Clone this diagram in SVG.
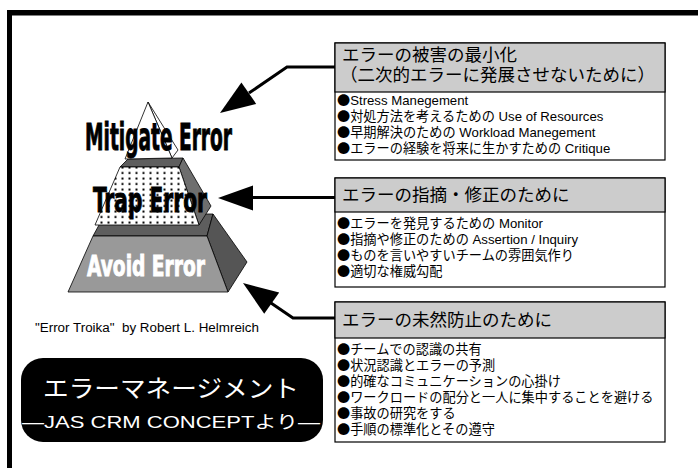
<svg xmlns="http://www.w3.org/2000/svg" width="698" height="468" viewBox="0 0 698 468">
<defs>
<pattern id="dots" width="7" height="5.5" patternUnits="userSpaceOnUse">
<rect width="7" height="5.5" fill="#fff"/>
<rect x="2.5" y="1.5" width="2" height="2" fill="#000"/>
</pattern>
<style>
.box{fill:#fff;stroke:#000;stroke-width:1.2}
.hdr{fill:#cccccc;stroke:#000;stroke-width:1.2}
.ht{font-family:"Noto Sans CJK JP","Liberation Sans",sans-serif;font-size:17.5px;fill:#000}
.bt{font-family:"Liberation Sans","Noto Sans CJK JP",sans-serif;font-size:13.2px;fill:#000}
.bl{font-family:"Noto Sans CJK JP",sans-serif}
.pt{font-family:"DejaVu Sans Condensed","DejaVu Sans",sans-serif;font-weight:bold;stroke-width:0.9}
.ln{fill:none;stroke:#000;stroke-width:3}
.ah{fill:#000}
.edge{stroke:#000;stroke-width:0.8}
</style>
</defs>
<rect width="698" height="468" fill="#fff"/>
<g id="frame">
<rect x="7" y="10" width="691" height="5.5" fill="#000"/>
<rect x="7" y="10" width="5" height="458" fill="#000"/>
</g>
<g id="pyramid">
<polygon points="93,236 105,214 213,214 207,236" fill="#5e5e5e" class="edge"/>
<polygon points="207,236 213,214 247,262 228,292" fill="#555" class="edge"/>
<polygon points="93,236 207,236 228,292 68,292" fill="#999" class="edge"/>
<polygon points="120,167 128,159 183,158 179,167" fill="#5e5e5e" class="edge"/>
<polygon points="179,167 183,158 211,206 199,225" fill="#6e6e6e" class="edge"/>
<polygon points="120,167 179,167 199,225 95,225" fill="url(#dots)" class="edge"/>
<polygon points="148,102 178,150 172,158" fill="#fff" class="edge"/>
<polygon points="148,102 172,158 125,159" fill="#fff" class="edge"/>
<text class="pt" x="85" y="150" font-size="37" textLength="147" lengthAdjust="spacingAndGlyphs" fill="#000" stroke="#000">Mitigate Error</text>
<text class="pt" x="93" y="212" font-size="34" textLength="114" lengthAdjust="spacingAndGlyphs" fill="#000" stroke="#000">Trap Error</text>
<text class="pt" x="87" y="276" font-size="29" textLength="118" lengthAdjust="spacingAndGlyphs" fill="#fff" stroke="#fff">Avoid Error</text>
</g>
<g id="connectors">
<polyline class="ln" points="335,67 287,67 249,93"/>
<polygon class="ah" points="220,113 256.2,103.9 241.4,82.5"/>
<line class="ln" x1="335" y1="197.5" x2="250" y2="197.5"/>
<polygon class="ah" points="218,198 253,185.5 253,210.5"/>
<polyline class="ln" points="335,318 293,318 271,303"/>
<polygon class="ah" points="243,283 279.2,292.5 264.2,313.7"/>
</g>
<g id="box1">
<rect class="box" x="335" y="43" width="330" height="117"/>
<rect class="hdr" x="335" y="43" width="330" height="49"/>
<text class="ht" x="342" y="61">エラーの被害の最小化</text>
<text class="ht" x="340" y="81">（二次的エラーに発展させないために）</text>
<text class="bt" x="337" y="105"><tspan class="bl">●</tspan>Stress Manegement</text>
<text class="bt" x="337" y="121"><tspan class="bl">●</tspan>対処方法を考えるための Use of Resources</text>
<text class="bt" x="337" y="137"><tspan class="bl">●</tspan>早期解決のための Workload Manegement</text>
<text class="bt" x="337" y="153"><tspan class="bl">●</tspan>エラーの経験を将来に生かすための Critique</text>
</g>
<g id="box2">
<rect class="box" x="335" y="178" width="330" height="109"/>
<rect class="hdr" x="335" y="178" width="330" height="34"/>
<text class="ht" x="342" y="201">エラーの指摘・修正のために</text>
<text class="bt" x="337" y="228"><tspan class="bl">●</tspan>エラーを発見するための Monitor</text>
<text class="bt" x="337" y="244"><tspan class="bl">●</tspan>指摘や修正のための Assertion / Inquiry</text>
<text class="bt" x="337" y="260"><tspan class="bl">●</tspan>ものを言いやすいチームの雰囲気作り</text>
<text class="bt" x="337" y="276"><tspan class="bl">●</tspan>適切な権威勾配</text>
</g>
<g id="box3">
<rect class="box" x="335" y="302" width="330" height="140"/>
<rect class="hdr" x="335" y="302" width="330" height="36"/>
<text class="ht" x="342" y="326">エラーの未然防止のために</text>
<text class="bt" x="337" y="354"><tspan class="bl">●</tspan>チームでの認識の共有</text>
<text class="bt" x="337" y="370"><tspan class="bl">●</tspan>状況認識とエラーの予測</text>
<text class="bt" x="337" y="386"><tspan class="bl">●</tspan>的確なコミュニケーションの心掛け</text>
<text class="bt" x="337" y="402"><tspan class="bl">●</tspan>ワークロードの配分と一人に集中することを避ける</text>
<text class="bt" x="337" y="418"><tspan class="bl">●</tspan>事故の研究をする</text>
<text class="bt" x="337" y="434"><tspan class="bl">●</tspan>手順の標準化とその遵守</text>
</g>
<g id="citation">
<text x="35" y="332" font-family="Liberation Sans, sans-serif" font-size="12.5" fill="#000" xml:space="preserve" textLength="224" lengthAdjust="spacingAndGlyphs">"Error Troika"  by Robert L. Helmreich</text>
</g>
<g id="title">
<rect x="21" y="358" width="302" height="84" rx="22" ry="22" fill="#000"/>
<text x="43" y="397" font-family="Noto Sans CJK JP, sans-serif" font-size="24" fill="#fff" textLength="256" lengthAdjust="spacingAndGlyphs">エラーマネージメント</text>
<text x="22" y="428" font-family="Liberation Sans, Noto Sans CJK JP, sans-serif" font-size="17" fill="#fff" textLength="298" lengthAdjust="spacingAndGlyphs">―JAS CRM CONCEPTより―</text>
</g>
</svg>
